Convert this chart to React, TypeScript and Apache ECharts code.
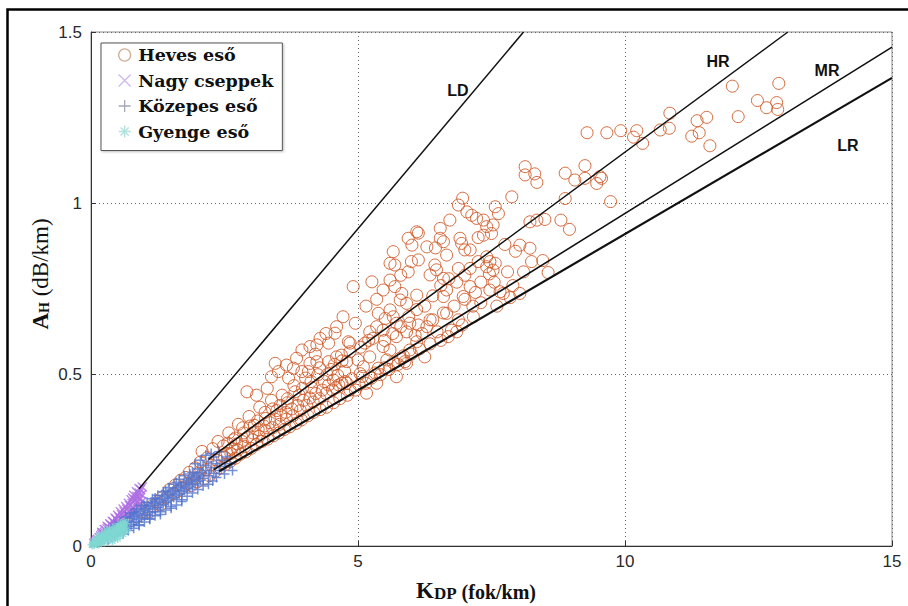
import React, { useEffect, useRef } from "react";
import * as echarts from "echarts";

// ---------- data ----------
const xTickLabels = ["0", "5", "10", "15"];
const yTickLabels = ["0", "0.5", "1", "1.5"];

const seriesNames = ["Heves eső", "Nagy cseppek", "Közepes eső", "Gyenge eső"];

// Heves eső (heavy rain) – circles
const heavyRain: number[][] = [
  [12.01, 1.342], [12.88, 1.35], [12.48, 1.3], [12.65, 1.279], [12.84, 1.294], [12.86, 1.274], [12.12, 1.253],
  [10.84, 1.263], [11.35, 1.241], [11.53, 1.251], [11.39, 1.206], [11.25, 1.196], [11.59, 1.168], [10.66, 1.214],
  [10.83, 1.219], [10.22, 1.212], [10.16, 1.193], [10.33, 1.175], [9.92, 1.212], [9.66, 1.206], [9.29, 1.206],
  [9.56, 1.073], [9.73, 1.005],
  [8.13, 1.107], [8.13, 1.083], [8.31, 1.086], [8.35, 1.061], [7.88, 1.019], [8.88, 1.088], [9.06, 1.068],
  [9.25, 1.11], [9.25, 1.073], [9.47, 1.058], [9.53, 1.078], [8.88, 1.014], [8.22, 0.946], [8.35, 0.951],
  [8.5, 0.953], [8.8, 0.951], [8.96, 0.924],
  [6.96, 1.015], [6.88, 0.995], [7.04, 0.975], [7.13, 0.965], [7.22, 0.956], [7.35, 0.951], [7.41, 0.932],
  [7.53, 0.937], [7.57, 0.99], [7.63, 0.97], [7.5, 0.912], [7.35, 0.907],
  [8.03, 0.878], [8.22, 0.869], [8.25, 0.83], [8.46, 0.833], [8.56, 0.798],
  [6.72, 0.951], [6.54, 0.927], [6.54, 0.898], [6.6, 0.888], [5.94, 0.898], [6.13, 0.913], [6.01, 0.878],
  [6.29, 0.873], [6.1, 0.917],
  [6.91, 0.898], [6.94, 0.883], [7.0, 0.864], [7.1, 0.864],
  [7.41, 0.844], [7.47, 0.83], [7.57, 0.825], [7.41, 0.815], [7.53, 0.805], [7.46, 0.794],
  [5.66, 0.859], [5.6, 0.825], [5.69, 0.82],
  [6.13, 0.835], [5.94, 0.8], [6.35, 0.791], [6.44, 0.82], [6.47, 0.806], [6.6, 0.781], [6.66, 0.849],
  [6.88, 0.81], [7.1, 0.81],
  [7.1, 0.757], [6.97, 0.728], [6.6, 0.728], [6.66, 0.747],
  [7.47, 0.747], [7.66, 0.742], [7.72, 0.737], [8.03, 0.737],
  [5.26, 0.771], [4.91, 0.757], [5.47, 0.747], [5.69, 0.757], [5.82, 0.737], [5.79, 0.718], [5.91, 0.708],
  [6.1, 0.732], [5.6, 0.776],
  [4.72, 0.669], [5.38, 0.679], [5.51, 0.664], [5.66, 0.669], [5.72, 0.65], [5.97, 0.65], [6.13, 0.645],
  [6.35, 0.66], [6.66, 0.679], [6.88, 0.66], [7.16, 0.669],
  [4.57, 0.621], [4.82, 0.596], [5.22, 0.625], [5.28, 0.606], [5.13, 0.592], [5.47, 0.582], [5.6, 0.572],
  [5.72, 0.611], [5.91, 0.625], [6.07, 0.615], [6.1, 0.596], [6.29, 0.64], [6.48, 0.625], [6.69, 0.611],
  [6.85, 0.625], [5.97, 0.572], [5.54, 0.543], [5.22, 0.552], [5.79, 0.548], [5.91, 0.533], [6.25, 0.552],
  [4.85, 0.567], [4.69, 0.557], [5.1, 0.523], [5.04, 0.503],
  [4.54, 0.484], [4.79, 0.475], [4.85, 0.455], [5.16, 0.446], [5.35, 0.475], [5.72, 0.494], [5.88, 0.538],
  [5.38, 0.519],
  [3.45, 0.533], [3.38, 0.494], [3.51, 0.509], [3.66, 0.528], [3.79, 0.519], [3.95, 0.509], [4.07, 0.509],
  [4.1, 0.533], [2.92, 0.45], [3.85, 0.548], [3.95, 0.572], [4.1, 0.582], [4.23, 0.587], [4.29, 0.606],
  [4.45, 0.592], [4.23, 0.538], [4.45, 0.538], [4.6, 0.552], [4.79, 0.538], [5.0, 0.543], [4.85, 0.592],
  [5.47, 0.63], [5.6, 0.689],
  [1.42, 0.142], [1.47, 0.165], [1.55, 0.152], [1.58, 0.178], [1.63, 0.16], [1.68, 0.192], [1.72, 0.17],
  [1.77, 0.2], [1.8, 0.182], [1.84, 0.215], [1.88, 0.176], [1.92, 0.198], [1.95, 0.228], [1.99, 0.187],
  [2.02, 0.212], [2.05, 0.245], [2.08, 0.276], [2.12, 0.196], [2.15, 0.222], [2.18, 0.258], [2.22, 0.205],
  [2.26, 0.236], [2.28, 0.284], [2.33, 0.218], [2.36, 0.25], [2.38, 0.305], [2.42, 0.228], [2.45, 0.265],
  [2.48, 0.292], [2.52, 0.238], [2.55, 0.27], [2.58, 0.33], [2.61, 0.247], [2.64, 0.285], [2.67, 0.31],
  [2.7, 0.256], [2.73, 0.298], [2.76, 0.355], [2.8, 0.268], [2.83, 0.305], [2.86, 0.33], [2.9, 0.275],
  [2.93, 0.318], [2.96, 0.378], [3.0, 0.285], [3.03, 0.33], [3.06, 0.352], [3.1, 0.296], [3.13, 0.34],
  [3.16, 0.405], [3.2, 0.305], [3.24, 0.35], [3.27, 0.372], [3.31, 0.312], [3.35, 0.36], [3.38, 0.425],
  [3.42, 0.322], [3.45, 0.37], [3.48, 0.395], [3.52, 0.33], [3.55, 0.382], [3.58, 0.44], [3.62, 0.34],
  [3.65, 0.39], [3.68, 0.418], [3.72, 0.348], [3.76, 0.4], [3.8, 0.468], [3.84, 0.358], [3.87, 0.41],
  [3.9, 0.44], [3.94, 0.368], [3.98, 0.425], [4.02, 0.49], [4.06, 0.38], [4.1, 0.432], [4.13, 0.462],
  [4.17, 0.39], [4.21, 0.445], [4.25, 0.5], [4.29, 0.398], [4.33, 0.455], [4.37, 0.48], [4.41, 0.405],
  [4.45, 0.47], [4.5, 0.515], [4.54, 0.418], [4.58, 0.462], [4.62, 0.498], [4.66, 0.43], [4.7, 0.475],
  [4.75, 0.51], [4.8, 0.44], [4.88, 0.488], [4.95, 0.455], [5.02, 0.47], [5.08, 0.495], [5.15, 0.475],
  [5.25, 0.49], [5.32, 0.505], [5.42, 0.5], [5.5, 0.52], [5.58, 0.515], [5.66, 0.535], [5.75, 0.53],
  [5.85, 0.555], [6.0, 0.56], [6.15, 0.575], [6.35, 0.59], [6.55, 0.6], [6.75, 0.63], [6.95, 0.645],
  [7.15, 0.7], [7.3, 0.71], [7.6, 0.7], [7.85, 0.725],
  [0.85, 0.085], [0.95, 0.1], [1.05, 0.11], [1.15, 0.118], [1.25, 0.13], [1.32, 0.14], [1.1, 0.1], [1.3, 0.12],
  [2.5, 0.26], [2.62, 0.27], [2.75, 0.28], [2.88, 0.29], [3.02, 0.31], [3.15, 0.32], [3.28, 0.335],
  [3.4, 0.345], [3.53, 0.355], [3.66, 0.37], [3.78, 0.38], [3.92, 0.395], [4.04, 0.41], [4.16, 0.42],
  [4.28, 0.43], [4.4, 0.445], [4.52, 0.455], [4.64, 0.47], [4.76, 0.48], [2.56, 0.3], [2.7, 0.315],
  [2.84, 0.345], [2.98, 0.35], [3.12, 0.365], [3.26, 0.39], [3.4, 0.4], [3.54, 0.41], [3.68, 0.43],
  [3.82, 0.45], [3.96, 0.46], [4.12, 0.48], [4.28, 0.52], [4.42, 0.5], [4.56, 0.53], [4.7, 0.54],
  [5.05, 0.58], [5.2, 0.6], [5.35, 0.64], [5.5, 0.6], [5.65, 0.62], [5.8, 0.64], [5.95, 0.67], [6.1, 0.69],
  [6.25, 0.7], [6.4, 0.73], [6.55, 0.76], [6.7, 0.78], [6.85, 0.77], [7.0, 0.79], [7.25, 0.83], [7.3, 0.77],
  [7.0, 0.72], [6.8, 0.7], [6.6, 0.68], [6.4, 0.66], [6.2, 0.62], [7.2, 0.74], [7.55, 0.77], [7.8, 0.8],
  [7.9, 0.76], [8.1, 0.8], [7.95, 0.86], [7.75, 0.88], [7.25, 0.9], [6.45, 0.87], [6.0, 0.83], [5.8, 0.79],
  [5.35, 0.72], [5.15, 0.7], [4.95, 0.65], [4.6, 0.64], [4.4, 0.62], [4.2, 0.56], [3.7, 0.49], [3.3, 0.46],
  [3.1, 0.44],
];

// Nagy cseppek (large drops) – x marks
const largeDrops: number[][] = [
  [0.05, 0.008], [0.08, 0.012], [0.1, 0.017], [0.12, 0.02], [0.15, 0.025], [0.18, 0.03], [0.2, 0.034],
  [0.22, 0.038], [0.25, 0.04], [0.27, 0.046], [0.3, 0.05], [0.32, 0.055], [0.35, 0.052], [0.37, 0.062],
  [0.4, 0.058], [0.42, 0.07], [0.45, 0.065], [0.47, 0.078], [0.5, 0.072], [0.52, 0.085], [0.55, 0.08],
  [0.57, 0.092], [0.6, 0.085], [0.62, 0.1], [0.65, 0.092], [0.67, 0.108], [0.7, 0.1], [0.72, 0.118],
  [0.75, 0.105], [0.77, 0.125], [0.8, 0.112], [0.82, 0.135], [0.84, 0.12], [0.86, 0.145], [0.88, 0.13],
  [0.9, 0.155], [0.92, 0.14], [0.93, 0.165], [0.95, 0.15], [0.85, 0.158], [0.78, 0.14], [0.7, 0.125],
  [0.6, 0.108], [0.5, 0.09], [0.96, 0.172], [0.9, 0.168], [0.4, 0.072], [0.3, 0.058],
  [0.55, 0.1], [0.65, 0.115], [0.75, 0.135], [0.8, 0.148], [0.45, 0.082], [0.35, 0.065], [0.25, 0.048],
  [0.2, 0.04], [0.6, 0.075], [0.7, 0.09], [0.8, 0.1], [0.9, 0.118], [0.95, 0.13],
];

// Közepes eső (moderate rain) – plus marks
const moderateRain: number[][] = [
  [0.25, 0.02], [0.3, 0.03], [0.32, 0.018], [0.36, 0.035], [0.4, 0.028], [0.42, 0.045], [0.45, 0.032],
  [0.48, 0.05], [0.5, 0.038], [0.53, 0.055], [0.55, 0.042], [0.58, 0.06], [0.6, 0.048], [0.62, 0.068],
  [0.65, 0.052], [0.68, 0.072], [0.7, 0.058], [0.72, 0.08], [0.75, 0.062], [0.78, 0.085], [0.8, 0.068],
  [0.82, 0.09], [0.85, 0.072], [0.88, 0.095], [0.9, 0.078], [0.92, 0.1], [0.95, 0.082], [0.98, 0.105],
  [1.0, 0.088], [1.02, 0.11], [1.05, 0.092], [1.08, 0.115], [1.1, 0.098], [1.12, 0.12], [1.15, 0.1],
  [1.18, 0.125], [1.2, 0.108], [1.22, 0.13], [1.25, 0.112], [1.28, 0.135], [1.3, 0.118], [1.33, 0.14],
  [1.35, 0.122], [1.38, 0.145], [1.4, 0.128], [1.43, 0.15], [1.45, 0.132], [1.48, 0.155], [1.5, 0.138],
  [1.53, 0.16], [1.55, 0.142], [1.58, 0.165], [1.6, 0.148], [1.63, 0.17], [1.65, 0.152], [1.68, 0.175],
  [1.7, 0.158], [1.73, 0.18], [1.75, 0.162], [1.78, 0.185], [1.8, 0.168], [1.83, 0.19], [1.85, 0.172],
  [1.88, 0.195], [1.9, 0.178], [1.93, 0.2], [1.95, 0.182], [1.98, 0.205], [2.0, 0.188], [2.03, 0.21],
  [2.05, 0.192], [2.08, 0.215], [2.1, 0.198], [2.15, 0.22], [2.2, 0.205], [2.25, 0.228], [2.3, 0.212],
  [2.35, 0.24], [2.4, 0.22], [2.45, 0.25], [2.2, 0.245], [2.3, 0.26], [2.1, 0.235], [2.0, 0.225],
  [1.9, 0.215], [2.5, 0.232], [2.55, 0.26], [2.28, 0.19], [1.7, 0.135], [1.5, 0.115], [1.3, 0.1],
  [1.1, 0.08], [0.9, 0.062], [1.6, 0.185], [1.4, 0.162], [1.2, 0.14], [1.0, 0.118], [0.8, 0.098],
  [0.35, 0.05], [0.45, 0.06], [0.55, 0.07], [0.65, 0.085], [0.75, 0.095], [0.85, 0.108], [0.95, 0.118],
  [1.05, 0.128], [1.15, 0.138], [1.25, 0.148], [1.35, 0.158], [1.45, 0.17], [1.55, 0.18], [1.65, 0.195],
  [1.75, 0.205], [1.85, 0.21], [1.95, 0.24], [2.05, 0.25], [2.15, 0.265], [2.25, 0.27], [2.4, 0.275],
  [0.6, 0.035], [0.7, 0.045], [0.8, 0.052], [0.9, 0.06], [1.0, 0.07], [1.1, 0.078], [1.2, 0.088],
  [1.3, 0.092], [1.4, 0.105], [1.5, 0.11], [1.6, 0.12], [1.7, 0.13], [1.8, 0.145], [1.9, 0.155],
  [2.0, 0.165], [2.1, 0.175], [2.2, 0.18], [2.35, 0.2], [2.5, 0.21], [2.6, 0.24], [2.65, 0.22],
];

// Gyenge eső (light rain) – star marks
const lightRain: number[][] = [
  [0.02, 0.003], [0.04, 0.006], [0.06, 0.004], [0.08, 0.01], [0.1, 0.008], [0.12, 0.014], [0.14, 0.011],
  [0.16, 0.018], [0.18, 0.014], [0.2, 0.022], [0.22, 0.017], [0.24, 0.026], [0.26, 0.02], [0.28, 0.03],
  [0.3, 0.024], [0.32, 0.034], [0.34, 0.027], [0.36, 0.038], [0.38, 0.031], [0.4, 0.042], [0.42, 0.034],
  [0.44, 0.046], [0.46, 0.038], [0.48, 0.05], [0.5, 0.041], [0.52, 0.054], [0.54, 0.045], [0.56, 0.058],
  [0.58, 0.048], [0.6, 0.062], [0.62, 0.052], [0.64, 0.065], [0.15, 0.005], [0.25, 0.012], [0.35, 0.018],
  [0.45, 0.025], [0.55, 0.032], [0.1, 0.02], [0.2, 0.032], [0.3, 0.045],
  [0.05, 0.012], [0.15, 0.028], [0.25, 0.038], [0.35, 0.05], [0.45, 0.055], [0.55, 0.065], [0.62, 0.07],
  [0.4, 0.015], [0.5, 0.022], [0.6, 0.035], [0.66, 0.045],
];

// Relation lines (endpoints)
const lineNames = ["LD", "HR", "MR", "LR"];
const ldLine = [[0.9, 0.167], [8.1, 1.5]];
const hrLine = [[2.2, 0.253], [13.05, 1.5]];
const mrLine = [[2.3, 0.223], [15, 1.456]];
const lrLine = [[2.4, 0.218], [15, 1.366]];

const plusPath = "path://M5,0L5,10M0,5L10,5";
const crossPath = "path://M0,0L10,10M10,0L0,10";
const starPath = "path://M5,0L5,10M0,5L10,5M1.6,1.6L8.4,8.4M8.4,1.6L1.6,8.4";

const SANS = "'Liberation Sans', Arial, sans-serif";
const SERIF = "'Liberation Serif', 'Times New Roman', serif";

export default function App() {
  const ref = useRef<HTMLDivElement>(null);

  useEffect(() => {
    if (!ref.current) return;
    const chart = echarts.init(ref.current, null, { renderer: "svg" });

    const lineSeries = (name: string, data: number[][], width: number) => ({
      name,
      type: "line",
      data,
      showSymbol: false,
      symbol: "none",
      silent: true,
      z: 5,
      lineStyle: { color: "#111", width },
    });

    const labelText = (text: string, x: number, y: number) => ({
      type: "text",
      x,
      y,
      silent: true,
      style: { text, fontFamily: SANS, fontWeight: "bold", fontSize: 16, fill: "#111", align: "center", verticalAlign: "middle" },
    });

    const option: any = {
      animation: false,
      backgroundColor: "#fff",
      grid: {
        left: 91,
        right: 16,
        top: 32,
        bottom: 60,
        show: true,
        borderColor: "#8a8a8a",
        borderWidth: 1,
        backgroundColor: "transparent",
      },
      xAxis: {
        type: "value",
        min: 0,
        max: 15,
        interval: 5,
        axisLine: { show: true, onZero: false, lineStyle: { color: "#333", width: 1 } },
        axisTick: { show: true, inside: true, length: 5, lineStyle: { color: "#333" } },
        axisLabel: {
          margin: 7,
          fontSize: 17,
          fontFamily: SANS,
          color: "#2a2a2a",
          formatter: (v: number) => xTickLabels[Math.round(v / 5)] ?? "",
        },
        splitLine: { show: true, lineStyle: { color: "#666", type: [1, 3], width: 1 } },
      },
      yAxis: {
        type: "value",
        min: 0,
        max: 1.5,
        interval: 0.5,
        axisLine: { show: true, onZero: false, lineStyle: { color: "#333", width: 1 } },
        axisTick: { show: true, inside: true, length: 5, lineStyle: { color: "#333" } },
        axisLabel: {
          margin: 9,
          fontSize: 17,
          fontFamily: SANS,
          color: "#2a2a2a",
          formatter: (v: number) => yTickLabels[Math.round(v / 0.5)] ?? "",
        },
        splitLine: { show: true, lineStyle: { color: "#666", type: [1, 3], width: 1 } },
      },
      legend: {
        orient: "vertical",
        left: 101,
        top: 43,
        padding: [3, 9, 10, 17],
        itemWidth: 17,
        itemHeight: 12,
        itemGap: 7.5,
        selectedMode: false,
        backgroundColor: "#fff",
        borderColor: "#555",
        borderWidth: 1,
        shadowColor: "rgba(0,0,0,0.25)",
        shadowBlur: 2,
        shadowOffsetX: 1,
        shadowOffsetY: 1,
        textStyle: {
          fontFamily: "'DejaVu Serif', serif",
          fontWeight: "bold",
          fontSize: 17.5,
          lineHeight: 14,
          color: "#111",
        },
        data: [
          { name: seriesNames[0], icon: "circle", itemStyle: { color: "rgba(0,0,0,0)", borderColor: "#c9a58a", borderWidth: 1.3 } },
          { name: seriesNames[1], icon: crossPath, itemStyle: { color: "rgba(0,0,0,0)", borderColor: "#c3a6e6", borderWidth: 1.3 } },
          { name: seriesNames[2], icon: plusPath, itemStyle: { color: "rgba(0,0,0,0)", borderColor: "#8e90b0", borderWidth: 1.3 } },
          { name: seriesNames[3], icon: starPath, itemStyle: { color: "rgba(0,0,0,0)", borderColor: "#9edbd4", borderWidth: 1.3 } },
        ],
      },
      series: [
        {
          name: seriesNames[0],
          type: "scatter",
          data: heavyRain,
          symbol: "circle",
          symbolSize: 12,
          z: 2,
          itemStyle: { color: "rgba(0,0,0,0)", borderColor: "#cf5a28", borderWidth: 1, opacity: 0.9 },
        },
        {
          name: seriesNames[1],
          type: "scatter",
          data: largeDrops,
          symbol: crossPath,
          symbolSize: 9,
          z: 3,
          itemStyle: { color: "rgba(0,0,0,0)", borderColor: "#ad6be2", borderWidth: 1.4 },
        },
        {
          name: seriesNames[2],
          type: "scatter",
          data: moderateRain,
          symbol: plusPath,
          symbolSize: 10,
          z: 3,
          itemStyle: { color: "rgba(0,0,0,0)", borderColor: "#5174d0", borderWidth: 1.5 },
        },
        {
          name: seriesNames[3],
          type: "scatter",
          data: lightRain,
          symbol: starPath,
          symbolSize: 9,
          z: 4,
          itemStyle: { color: "rgba(0,0,0,0)", borderColor: "#7fd8d2", borderWidth: 1.4 },
        },
        lineSeries(lineNames[0], ldLine, 1.5),
        lineSeries(lineNames[1], hrLine, 1.5),
        lineSeries(lineNames[2], mrLine, 1.6),
        lineSeries(lineNames[3], lrLine, 2.2),
      ],
      graphic: [
        {
          type: "polyline",
          silent: true,
          shape: { points: [[7.5, 606], [7.5, 9.5], [908, 9.5]] },
          style: { stroke: "#000", lineWidth: 2.5, fill: "none" },
        },
        labelText(lineNames[0], 458, 90),
        labelText(lineNames[1], 718, 61),
        labelText(lineNames[2], 827, 70),
        labelText(lineNames[3], 848, 145),
        {
          type: "text", x: 476, y: 590, silent: true,
          style: {
            text: "{k|K}{d|DP}{u| (fok/km)}",
            align: "center",
            verticalAlign: "middle",
            rich: {
              k: { fontFamily: SERIF, fontWeight: "bold", fontSize: 23, lineHeight: 23, verticalAlign: "bottom", fill: "#111" },
              d: { fontFamily: SERIF, fontWeight: "bold", fontSize: 17, lineHeight: 17, verticalAlign: "bottom", fill: "#111" },
              u: { fontFamily: SERIF, fontWeight: "bold", fontSize: 20, lineHeight: 20, verticalAlign: "bottom", fill: "#111" },
            },
          },
        },
        {
          type: "text", x: 40, y: 274, rotation: Math.PI / 2, silent: true,
          style: {
            text: "{a|A}{h|H}{u| (dB/km)}",
            align: "center",
            verticalAlign: "middle",
            rich: {
              a: { fontFamily: SERIF, fontWeight: "bold", fontSize: 23, lineHeight: 23, verticalAlign: "bottom", fill: "#111" },
              h: { fontFamily: SERIF, fontWeight: "bold", fontSize: 14, lineHeight: 14, verticalAlign: "bottom", fill: "#111" },
              u: { fontFamily: SERIF, fontWeight: "normal", fontSize: 23, lineHeight: 23, verticalAlign: "bottom", fill: "#111" },
            },
          },
        },
      ],
    };

    chart.setOption(option);
    return () => chart.dispose();
  }, []);

  return (
    <div
      ref={ref}
      style={{ position: "absolute", left: 0, top: 0, width: 908, height: 606, background: "#fff" }}
    />
  );
}
